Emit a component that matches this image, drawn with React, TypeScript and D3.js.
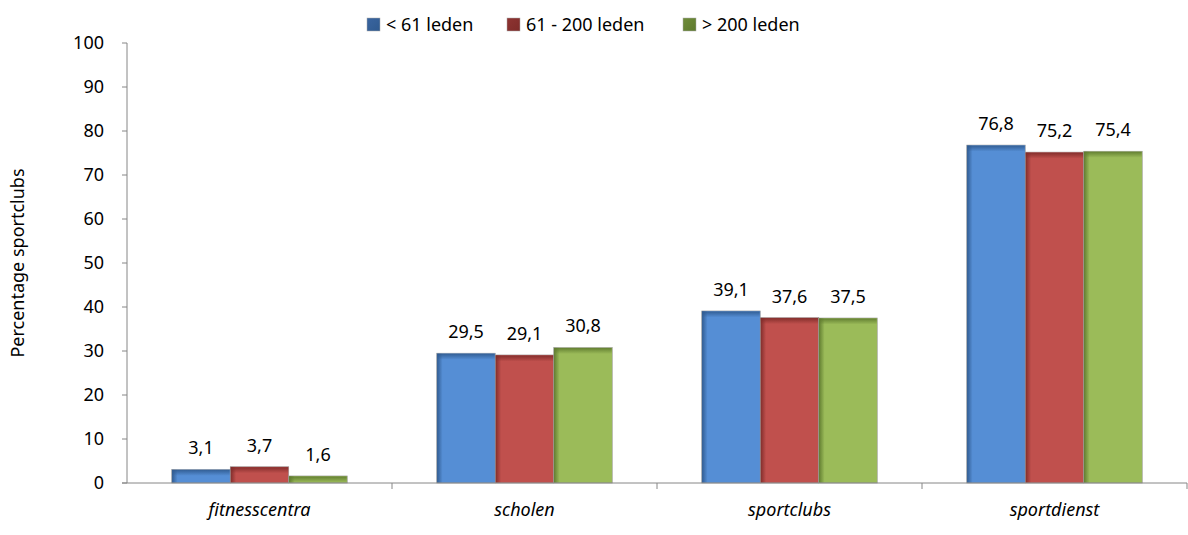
import React from "react";
import * as d3 from "d3";

const categories = ["fitnesscentra", "scholen", "sportclubs", "sportdienst"];
const seriesNames = ["< 61 leden", "61 - 200 leden", "> 200 leden"];
const small = [3.1, 29.5, 39.1, 76.8];
const medium = [3.7, 29.1, 37.6, 75.2];
const large = [1.6, 30.8, 37.5, 75.4];
const yTicks = [0, 10, 20, 30, 40, 50, 60, 70, 80, 90, 100];

const colors = ["#558ED5", "#C0504D", "#9BBB59"];
const darkColors = ["#2F5A8F", "#7E2B29", "#5E7A2E"];
const legendColors = ["#3A65A0", "#8E3432", "#6F8C3A"];

const W = 1188, H = 535;
const margin = { left: 127, right: 1, top: 43, bottom: 52 };
const font = "'Noto Sans', sans-serif";

export default function App() {
  const seriesVals = [small, medium, large];
  const x0 = d3.scaleBand<string>().domain(categories).range([margin.left, W - margin.right]).paddingInner(0).paddingOuter(0);
  const x1 = d3.scaleBand<string>().domain(seriesNames).range([0, x0.bandwidth()]).paddingInner(0).paddingOuter(0.765);
  const y = d3.scaleLinear().domain([0, 100]).range([H - margin.bottom, margin.top]);
  const fmt = (v: number) => v.toFixed(1).replace(".", ",");
  const legendX = [367, 507, 683];

  return (
    <svg width={W} height={H} style={{ position: "absolute", left: 0, top: 0, background: "#fff" }} fontFamily={font}>
      <defs>
        {colors.map((c, i) => (
          <React.Fragment key={i}>
            <linearGradient id={`h${i}`} x1="0" x2="1" y1="0" y2="0">
              <stop offset="0" stopColor={darkColors[i]} />
              <stop offset="0.1" stopColor={c} />
              <stop offset="1" stopColor={c} />
            </linearGradient>
            <linearGradient id={`v${i}`} x1="0" x2="0" y1="0" y2="1">
              <stop offset="0" stopColor={darkColors[i]} stopOpacity="0.9" />
              <stop offset="1" stopColor={darkColors[i]} stopOpacity="0" />
            </linearGradient>
            <linearGradient id={`l${i}`} x1="0" x2="1" y1="0" y2="1">
              <stop offset="0" stopColor={legendColors[i]} />
              <stop offset="1" stopColor={darkColors[i]} />
            </linearGradient>
          </React.Fragment>
        ))}
      </defs>
      {/* y axis */}
      <line x1={margin.left} x2={margin.left} y1={y(0)} y2={y(100)} stroke="#868686" />
      {yTicks.map((t) => (
        <g key={t}>
          <line x1={margin.left - 5} x2={margin.left} y1={y(t)} y2={y(t)} stroke="#868686" />
          <text x={margin.left - 23} y={y(t)} dy="0.35em" textAnchor="end" fontSize={18} fill="#000">{t}</text>
        </g>
      ))}
      {/* bars */}
      {categories.map((c, ci) => (
        <g key={c}>
          {seriesNames.map((s, si) => {
            const v = seriesVals[si][ci];
            const bx = x0(c)! + x1(s)!;
            const by = y(v);
            const bh = y(0) - by;
            const bw = x1.bandwidth();
            return (
              <g key={s}>
                <rect x={bx} y={by} width={bw} height={bh} fill={`url(#h${si})`} stroke="#9a9a9a" strokeWidth={0.6} />
                <rect x={bx + 0.5} y={by + 0.5} width={bw - 1} height={Math.min(6, bh - 0.5)} fill={`url(#v${si})`} />
                <text x={bx + bw / 2} y={by - 15} textAnchor="middle" fontSize={18}>{fmt(v)}</text>
              </g>
            );
          })}
        </g>
      ))}
      {/* x axis */}
      <line x1={margin.left - 5} x2={W - margin.right} y1={y(0)} y2={y(0)} stroke="#868686" />
      {categories.map((c) => (
        <line key={c} x1={x0(c)! + x0.bandwidth()} x2={x0(c)! + x0.bandwidth()} y1={y(0)} y2={y(0) + 6} stroke="#868686" />
      ))}
      {categories.map((c) => (
        <text key={c} x={x0(c)! + x0.bandwidth() / 2} y={y(0) + 33} textAnchor="middle" fontSize={18} fontStyle="italic">{c}</text>
      ))}
      {/* y title */}
      <text transform={`translate(24,${(y(0) + y(100)) / 2}) rotate(-90)`} textAnchor="middle" fontSize={18}>Percentage sportclubs</text>
      {/* legend */}
      {seriesNames.map((s, i) => (
        <g key={s}>
          <rect x={legendX[i]} y={18} width={13} height={13} fill={`url(#l${i})`} stroke="#aaa" strokeWidth={0.5} />
          <text x={legendX[i] + 19} y={24.5} dy="0.35em" fontSize={18}>{s}</text>
        </g>
      ))}
    </svg>
  );
}
